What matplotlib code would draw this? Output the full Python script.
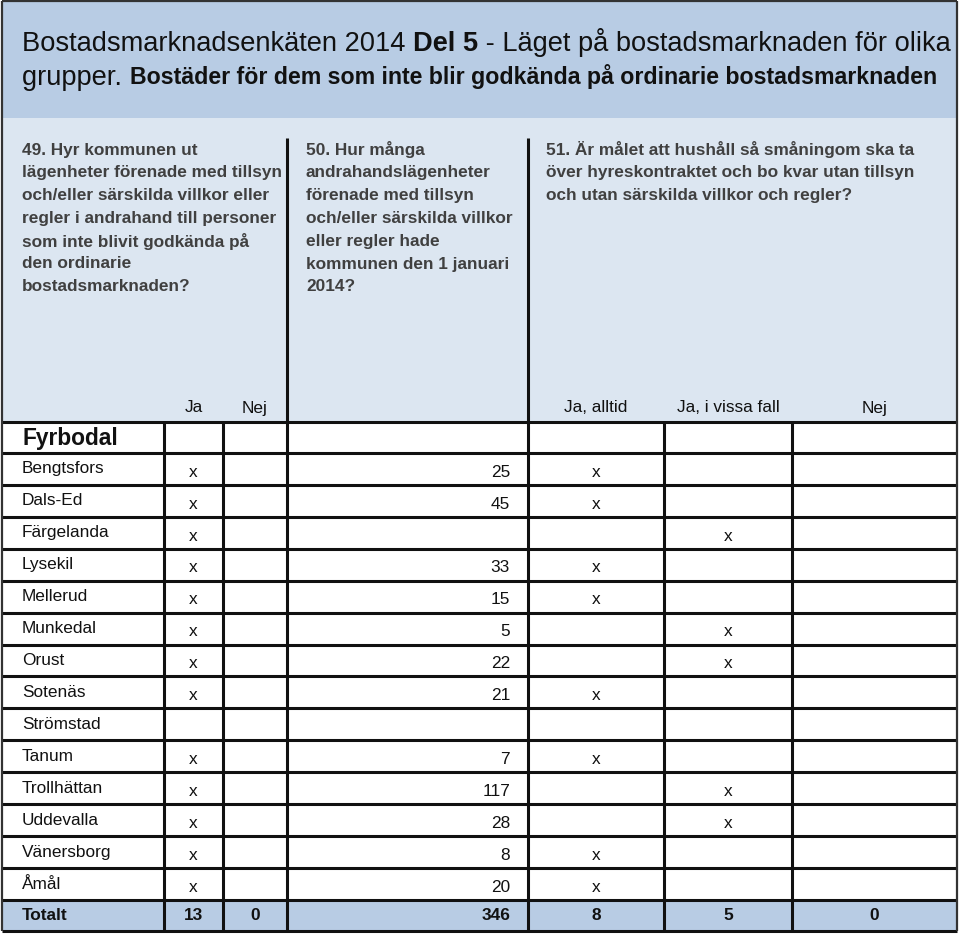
import matplotlib
matplotlib.use("Agg")
import matplotlib.pyplot as plt
from matplotlib.patches import Rectangle

plt.rcParams['font.family'] = ['Liberation Sans', 'DejaVu Sans']

# data
kommuner = ['Bengtsfors', 'Dals-Ed', 'Färgelanda', 'Lysekil', 'Mellerud', 'Munkedal',
            'Orust', 'Sotenäs', 'Strömstad', 'Tanum', 'Trollhättan', 'Uddevalla',
            'Vänersborg', 'Åmål']
q49 = ['Ja', 'Ja', 'Ja', 'Ja', 'Ja', 'Ja', 'Ja', 'Ja', '', 'Ja', 'Ja', 'Ja', 'Ja', 'Ja']
q50 = [25, 45, None, 33, 15, 5, 22, 21, None, 7, 117, 28, 8, 20]
q51 = ['alltid', 'alltid', 'vissa', 'alltid', 'alltid', 'vissa', 'vissa', 'alltid', '',
       'alltid', 'vissa', 'vissa', 'alltid', 'alltid']
q49_opts = ['Ja', 'Nej']
q51_opts = ['alltid', 'vissa', 'nej']
q51_labels = ['Ja, alltid', 'Ja, i vissa fall', 'Nej']

title1 = 'Bostadsmarknadsenkäten 2014 '
title_bold = 'Del 5'
title2 = ' - Läget på bostadsmarknaden för olika'
title3 = 'grupper. '
title3_bold = 'Bostäder för dem som inte blir godkända på ordinarie bostadsmarknaden'
fraga49 = ['49. Hyr kommunen ut', 'lägenheter förenade med tillsyn',
           'och/eller särskilda villkor eller', 'regler i andrahand till personer',
           'som inte blivit godkända på', 'den ordinarie', 'bostadsmarknaden?']
fraga50 = ['50. Hur många', 'andrahandslägenheter', 'förenade med tillsyn',
           'och/eller särskilda villkor', 'eller regler hade', 'kommunen den 1 januari',
           '2014?']
fraga51 = ['51. Är målet att hushåll så småningom ska ta',
           'över hyreskontraktet och bo kvar utan tillsyn',
           'och utan särskilda villkor och regler?']

# layout (pixels)
W, H = 960, 938
xL, xR = 2, 957
cols = [164, 223, 287, 528, 664, 792]
c49 = [(cols[0] + cols[1]) / 2, (cols[1] + cols[2]) / 2]
c51 = [(cols[3] + cols[4]) / 2, (cols[4] + cols[5]) / 2, (cols[5] + xR) / 2]
top_title, y_q, y_head = 1, 118, 422
y_fyr = 453
y_tot = 900
y_bot = 931
row_h = (y_tot - y_fyr) / len(kommuner)

blue1 = '#b8cce4'
blue2 = '#dce6f1'
fs = 12.4
fq = 12.4
ink = '#111111'

fig = plt.figure(figsize=(W / 100, H / 100), dpi=100)
ax = fig.add_axes([0, 0, 1, 1])
ax.set_xlim(0, W)
ax.set_ylim(H, 0)
ax.axis('off')

ax.add_patch(Rectangle((xL, top_title), xR - xL, y_q - top_title, fc=blue1, ec='none'))
ax.add_patch(Rectangle((xL, y_q), xR - xL, y_head - y_q, fc=blue2, ec='none'))
ax.add_patch(Rectangle((xL, y_tot), xR - xL, y_bot - y_tot, fc=blue1, ec='none'))

# title
t = ax.text(22, 44, title1, fontsize=19.6, va='center', color=ink)
t = ax.annotate(title_bold, xycoords=t, xy=(1, 0), va='bottom', fontsize=19.6,
                fontweight='bold', color=ink)
ax.annotate(title2, xycoords=t, xy=(1, 0), va='bottom', fontsize=19.6, color=ink)
t = ax.text(22, 78, title3, fontsize=19.6, va='center', color=ink)
ax.annotate(title3_bold, xycoords=t, xy=(1, 0), xytext=(0, 1.5), textcoords='offset points',
            va='bottom', fontsize=16.7, fontweight='bold', color=ink)

# questions
for x0, lines in [(22, fraga49), (306, fraga50), (546, fraga51)]:
    for i, s in enumerate(lines):
        ax.text(x0, 150 + i * 22.8, s, fontsize=fq, fontweight='bold', va='center',
                color='#404040')

# header labels
for cx, s in zip(c49, q49_opts):
    ax.text(cx, 408, s, fontsize=fs, ha='center', va='center', color=ink)
for cx, s in zip(c51, q51_labels):
    ax.text(cx, 408, s, fontsize=fs, ha='center', va='center', color=ink)
ax.text(22, 438, 'Fyrbodal', fontsize=16.4, fontweight='bold', va='center', color=ink)

# rows
for i, namn in enumerate(kommuner):
    y0 = y_fyr + i * row_h
    ax.text(22, y0 + row_h * 0.5, namn, fontsize=fs, va='center', color=ink)
    if q49[i]:
        ax.text(c49[q49_opts.index(q49[i])], y0 + row_h * 0.6, 'x', fontsize=fs,
                ha='center', va='center', color=ink)
    if q50[i] is not None:
        ax.text(510, y0 + row_h * 0.6, str(q50[i]), fontsize=fs, ha='right', va='center',
                color=ink)
    if q51[i]:
        ax.text(c51[q51_opts.index(q51[i])], y0 + row_h * 0.6, 'x', fontsize=fs,
                ha='center', va='center', color=ink)

# totals
yt = (y_tot + y_bot) / 2
ax.text(22, yt, 'Totalt', fontsize=fs, fontweight='bold', va='center', color=ink)
tot49 = [q49.count(o) for o in q49_opts]
tot51 = [q51.count(o) for o in q51_opts]
for cx, v in zip(c49, tot49):
    ax.text(cx, yt, str(v), fontsize=fs, fontweight='bold', ha='center', va='center',
            color=ink)
ax.text(510, yt, str(sum(v for v in q50 if v is not None)), fontsize=fs, fontweight='bold',
        ha='right', va='center', color=ink)
for cx, v in zip(c51, tot51):
    ax.text(cx, yt, str(v), fontsize=fs, fontweight='bold', ha='center', va='center',
            color=ink)

# grid lines
lw = 2.2
ys = [y_head, y_fyr] + [y_fyr + (i + 1) * row_h for i in range(len(kommuner))] + [y_bot]
ax.hlines(ys, xL, xR, colors=ink, lw=lw)
ax.vlines([cols[0], cols[1], cols[4], cols[5]], y_head, y_bot, colors=ink, lw=lw)
ax.vlines([cols[2], cols[3]], 138, y_bot, colors=ink, lw=lw)
ax.vlines([xL, xR], top_title, y_bot, colors='#333333', lw=1.6)
ax.hlines([top_title], xL, xR, colors='#333333', lw=1.6)

fig.savefig('out.png', dpi=100, facecolor='white')
